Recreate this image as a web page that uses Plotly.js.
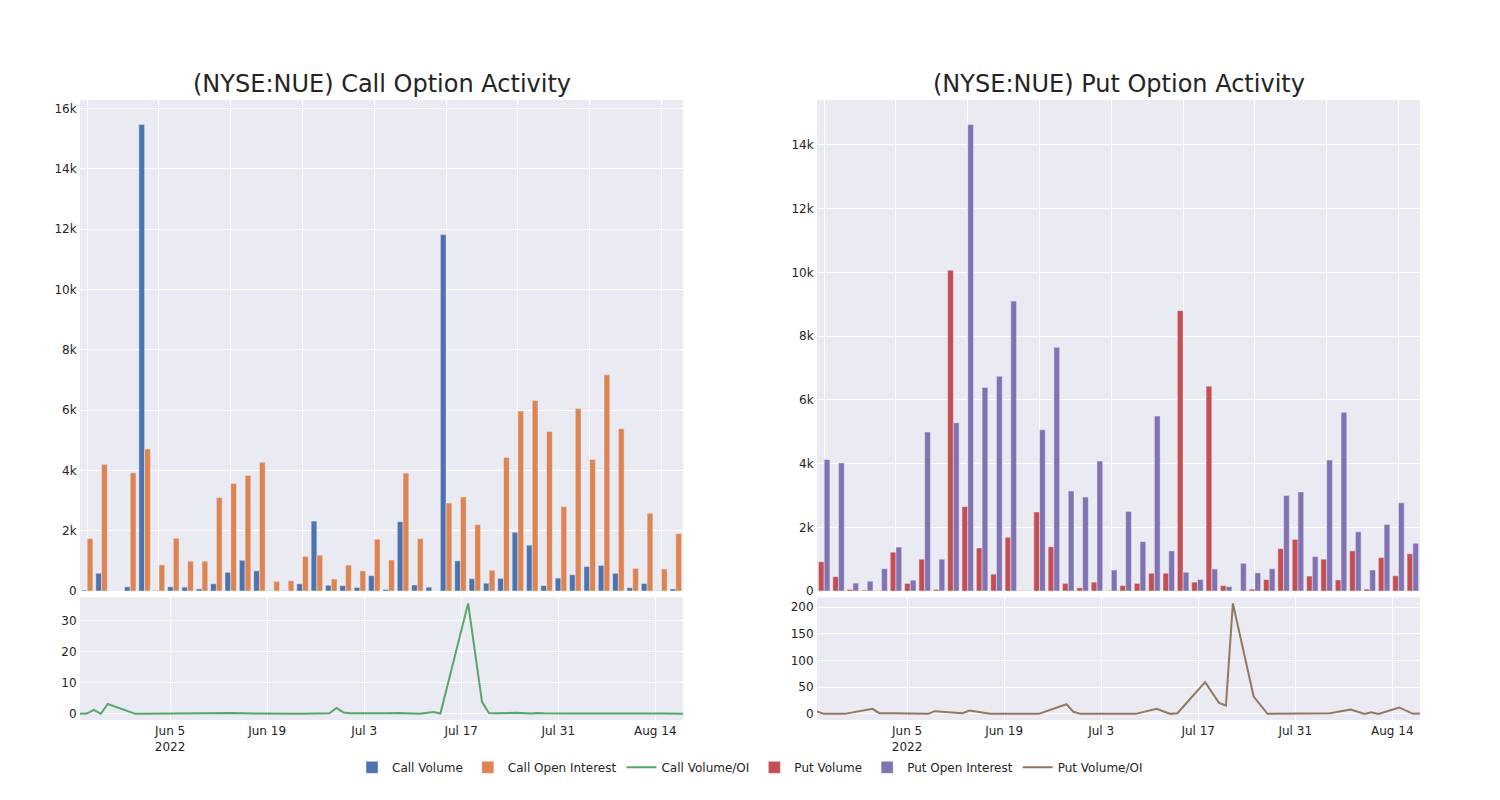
<!DOCTYPE html>
<html>
<head>
<meta charset="utf-8">
<script src="https://cdn.plot.ly/plotly-3.0.1.min.js"></script>
<style>html,body{margin:0;padding:0;background:#fff;}#chart{width:1500px;height:800px;}</style>
</head>
<body>
<div id="chart"></div>
<script>
// Trading dates of the option records
const dates = ['2022-05-23','2022-05-24','2022-05-25','2022-05-26','2022-05-27','2022-05-31','2022-06-01','2022-06-03','2022-06-08','2022-06-09',
  '2022-06-13','2022-06-14','2022-06-17','2022-06-22','2022-06-24','2022-06-28','2022-06-29','2022-06-30','2022-07-01','2022-07-06',
  '2022-07-08','2022-07-11','2022-07-13','2022-07-14','2022-07-18','2022-07-20','2022-07-21','2022-07-22','2022-07-25','2022-07-27',
  '2022-07-28','2022-07-29','2022-08-01','2022-08-02','2022-08-05','2022-08-08','2022-08-10','2022-08-11','2022-08-12','2022-08-15',
  '2022-08-17','2022-08-18'];

const callVolume = [30,590,0,140,15470,20,140,130,70,240,
  620,1020,670,10,10,240,2320,190,180,120,
  510,50,2300,200,130,11820,1000,410,260,420,
  1950,1520,180,430,540,810,850,590,110,250,
  10,70];
const callOpenInterest = [1740,4200,0,3920,4710,870,1750,990,990,3100,
  3570,3830,4270,320,340,1150,1190,400,860,670,
  1720,1030,3910,1740,0,2920,3120,2200,690,4430,
  5970,6320,5290,2800,6050,4360,7170,5380,750,2580,
  730,1900];
const callVolOI = [0.02,0.1,1.3,0.04,3.2,0.02,0.08,0.13,0.07,0.08,
  0.17,0.27,0.16,0.03,0.03,0.21,1.9,0.48,0.2,0.18,
  0.3,0.05,0.6,0.11,35.5,3.9,0.3,0.2,0.4,0.1,
  0.33,0.24,0.05,0.15,0.1,0.19,0.12,0.11,0.15,0.1,
  0.02,0.04];

const putVolume = [920,450,50,30,10,1220,240,1000,50,10070,
  2650,1350,530,1690,10,2480,1390,240,100,280,
  10,170,240,560,560,8800,280,6430,170,0,
  60,360,1330,1620,470,1000,350,1260,60,1050,
  480,1170];
const putOpenInterest = [4130,4020,250,310,700,1380,340,4990,1000,5280,
  14640,6390,6740,9100,10,5060,7650,3140,2950,4080,
  660,2500,1550,5490,1260,590,360,690,140,870,
  570,700,3000,3110,1080,4110,5610,1860,660,2090,
  2770,1500];
const putVolOI = [4.4,0,0,0,0,9.4,1.2,1.0,0,5,
  1.2,6.2,0,0,0,18,3.8,0,0,0,
  0,9.4,0,1.2,59.4,20.6,15.6,207,32.5,0,
  0,0,0,0.3,1,8,0,3,0,12,
  0,0.5];

const titles = ['(NYSE:NUE) Call Option Activity', '(NYSE:NUE) Put Option Activity'];

const C = {
  blue: 'rgb(76,114,176)', orange: 'rgb(221,132,82)', green: 'rgb(85,168,104)',
  red: 'rgb(196,78,82)', purple: 'rgb(129,114,179)', brown: 'rgb(147,120,96)'
};
const barLine = {color: 'rgb(234,234,242)', width: 0.5};

const traces = [
  {type: 'bar', name: 'Call Volume', x: dates, y: callVolume, xaxis: 'x', yaxis: 'y', marker: {color: C.blue, line: barLine}},
  {type: 'bar', name: 'Call Open Interest', x: dates, y: callOpenInterest, xaxis: 'x', yaxis: 'y', marker: {color: C.orange, line: barLine}},
  {type: 'scatter', mode: 'lines', name: 'Call Volume/OI', x: dates, y: callVolOI, xaxis: 'x3', yaxis: 'y3', line: {color: C.green, width: 2}},
  {type: 'bar', name: 'Put Volume', x: dates, y: putVolume, xaxis: 'x2', yaxis: 'y2', marker: {color: C.red, line: barLine}},
  {type: 'bar', name: 'Put Open Interest', x: dates, y: putOpenInterest, xaxis: 'x2', yaxis: 'y2', marker: {color: C.purple, line: barLine}},
  {type: 'scatter', mode: 'lines', name: 'Put Volume/OI', x: dates, y: putVolOI, xaxis: 'x4', yaxis: 'y4', line: {color: C.brown, width: 2}}
];

const ax = {gridcolor: 'white', linecolor: 'white', zerolinecolor: 'white', showgrid: true, ticks: '', automargin: false};
const catAx = Object.assign({}, ax, {type: 'category', showticklabels: false, tickmode: 'linear', tick0: 0, dtick: 5});
const dateAx = Object.assign({}, ax, {type: 'date'});

const layout = {
  width: 1500, height: 800,
  paper_bgcolor: 'white', plot_bgcolor: 'rgb(234,234,242)',
  font: {family: 'DejaVu Sans', size: 12, color: 'rgb(36,36,36)'},
  margin: {l: 80, r: 80, t: 100, b: 80},
  barmode: 'group',
  showlegend: true,
  legend: {orientation: 'h', x: 0.5, xanchor: 'center', y: -0.053, yanchor: 'top', font: {size: 12}},
  xaxis: Object.assign({}, catAx, {domain: [0, 0.45], anchor: 'y'}),
  yaxis: Object.assign({}, ax, {domain: [0.208, 1], anchor: 'x'}),
  xaxis2: Object.assign({}, catAx, {domain: [0.55, 1], anchor: 'y2'}),
  yaxis2: Object.assign({}, ax, {domain: [0.208, 1], anchor: 'x2'}),
  xaxis3: Object.assign({}, dateAx, {domain: [0, 0.45], anchor: 'y3'}),
  yaxis3: Object.assign({}, ax, {domain: [0, 0.198], anchor: 'x3'}),
  xaxis4: Object.assign({}, dateAx, {domain: [0.55, 1], anchor: 'y4'}),
  yaxis4: Object.assign({}, ax, {domain: [0, 0.198], anchor: 'x4'}),
  annotations: [
    {text: titles[0], x: 0.225, y: 1, xref: 'paper', yref: 'paper', xanchor: 'center', yanchor: 'bottom', showarrow: false, font: {size: 24}},
    {text: titles[1], x: 0.775, y: 1, xref: 'paper', yref: 'paper', xanchor: 'center', yanchor: 'bottom', showarrow: false, font: {size: 24}}
  ]
};

Plotly.newPlot('chart', traces, layout, {displayModeBar: false, responsive: false});
</script>
</body>
</html>
